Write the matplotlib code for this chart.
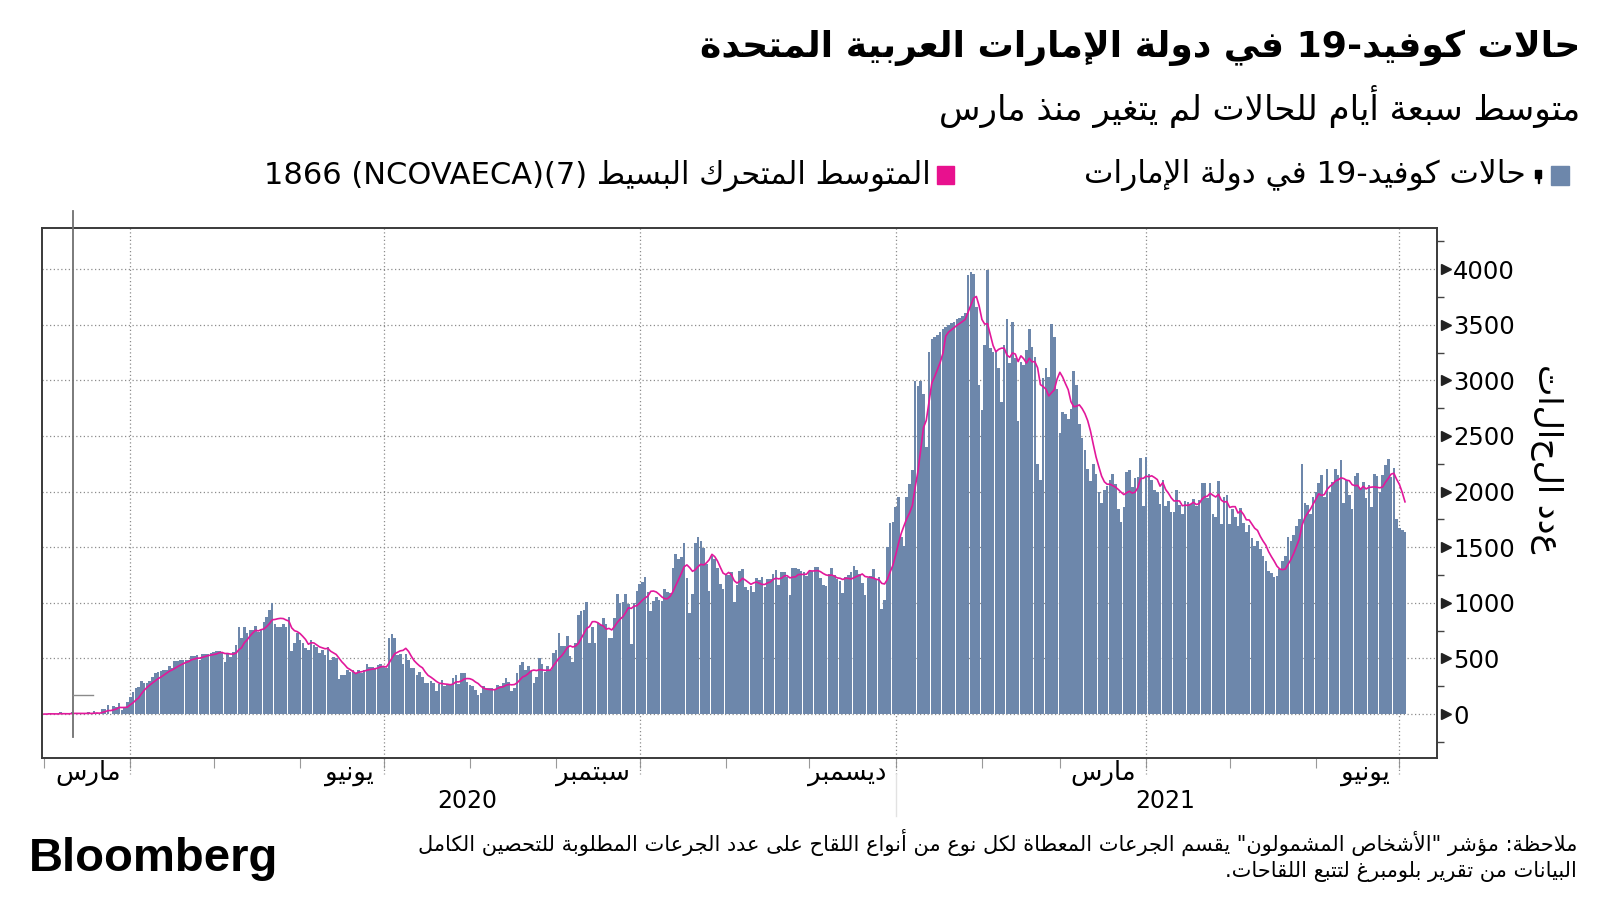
import re
import pandas as pd
import matplotlib
matplotlib.use("Agg")
import matplotlib.pyplot as plt
import matplotlib.dates as mdates
from matplotlib.patches import Rectangle
from matplotlib.ticker import MultipleLocator
from matplotlib.transforms import blended_transform_factory

# daily new cases, UAE (1 Mar 2020 .. 3 Jul 2021)
cases_2020_03 = [0, 0, 6, 0, 2, 0, 16, 0, 0, 0, 15, 11, 0, 13, 0, 0, 15, 0, 27, 13, 0, 45, 50, 85, 0, 72, 63, 102, 41, 53, 105]
cases_2020_04 = [150, 195, 234, 241, 294, 277, 283, 300, 331, 370, 376, 387, 398, 398, 432, 412, 477, 479, 484, 484,
                 483, 490, 518, 525, 532, 490, 536, 538, 542, 552]
cases_2020_05 = [561, 564, 569, 552, 470, 545, 515, 560, 620, 785, 680, 785, 725, 755, 755, 791, 740, 760, 830, 875,
                 940, 995, 814, 785, 785, 814, 785, 874, 569, 635, 725]
cases_2020_06 = [665, 635, 590, 575, 665, 620, 600, 545, 575, 530, 600, 485, 515, 500, 311, 350, 350, 395, 380, 395,
                 371, 395, 371, 395, 449, 425, 419, 401, 437, 449]
cases_2020_07 = [419, 410, 680, 720, 680, 530, 539, 449, 539, 485, 410, 410, 350, 380, 335, 275, 275, 299, 281, 210,
                 270, 305, 251, 260, 270, 320, 350, 270, 365, 371, 290]
cases_2020_08 = [260, 251, 215, 170, 190, 251, 236, 236, 236, 215, 260, 255, 282, 327, 291, 210, 232, 368, 443, 467,
                 398, 428, 383, 282, 336, 500, 450, 377, 428, 400, 545]
cases_2020_09 = [575, 731, 611, 611, 701, 521, 470, 635, 890, 929, 935, 1010, 635, 779, 641, 821, 797, 860, 809, 686,
                 680, 860, 1079, 1002, 1008, 1079, 989, 629, 1002, 1109]
cases_2020_10 = [1166, 1190, 1229, 1100, 929, 1019, 1049, 1025, 1019, 1121, 1100, 1085, 1310, 1439, 1391, 1409, 1535,
                 1220, 911, 1079, 1535, 1589, 1559, 1490, 1349, 1109, 1421, 1391, 1310, 1169, 1121]
cases_2020_11 = [1253, 1250, 1280, 1010, 1163, 1287, 1302, 1139, 1115, 1151, 1100, 1220, 1205, 1229, 1139, 1211, 1211,
                 1259, 1295, 1163, 1277, 1277, 1229, 1070, 1310, 1310, 1302, 1290, 1280, 1241]
cases_2020_12 = [1290, 1290, 1320, 1320, 1220, 1163, 1151, 1259, 1317, 1250, 1211, 1196, 1085, 1229, 1250, 1277, 1332,
                 1295, 1259, 1175, 1070, 1220, 1242, 1303, 1212, 1230, 949, 1030, 1498, 1715, 1724]
cases_2021_01 = [1859, 1955, 1588, 1513, 1949, 2070, 2190, 2996, 2948, 2996, 2881, 2400, 3251, 3369, 3387, 3408, 3438,
                 3459, 3477, 3498, 3513, 3528, 3549, 3558, 3580, 3609, 3949, 3970, 3958, 3657, 2957]
cases_2021_02 = [2731, 3317, 3988, 3287, 3257, 3266, 3107, 2806, 3317, 3549, 3152, 3528, 3197, 2634, 3167, 3137, 3272,
                 3459, 3302, 3212, 2244, 2106, 3017, 3107, 3032, 3507, 3393, 2926]
cases_2021_03 = [2527, 2716, 2695, 2650, 2746, 3086, 2957, 2610, 2485, 2376, 2205, 2094, 2250, 2160, 1994, 1895, 2016,
                 2054, 2100, 2154, 2070, 1844, 1724, 1865, 2175, 2190, 2040, 2124, 2130, 2304, 1874]
cases_2021_04 = [2310, 2154, 2100, 2016, 2000, 1889, 2100, 1874, 1919, 1814, 1814, 2010, 1880, 1799, 1913, 1904, 1890,
                 1930, 1874, 1925, 2076, 2076, 1940, 2076, 1799, 1769, 2094, 1709, 1955, 1973]
cases_2021_05 = [1709, 1844, 1769, 1694, 1850, 1720, 1640, 1700, 1580, 1510, 1560, 1480, 1420, 1380, 1290, 1270, 1229,
                 1240, 1300, 1380, 1420, 1590, 1560, 1610, 1690, 1750, 2250, 1900, 1880, 1800, 1950]
cases_2021_06 = [2000, 2080, 2150, 1950, 2200, 2000, 2090, 2200, 2150, 2280, 1900, 2100, 1966, 1842, 2136, 2167, 2028,
                 2090, 1941, 2059, 1858, 2158, 2136, 1997, 2152, 2238, 2291, 2127, 2214, 1755]
cases_2021_07 = [1672, 1656, 1641]

cases = (cases_2020_03 + cases_2020_04 + cases_2020_05 + cases_2020_06 + cases_2020_07 + cases_2020_08
         + cases_2020_09 + cases_2020_10 + cases_2020_11 + cases_2020_12 + cases_2021_01 + cases_2021_02
         + cases_2021_03 + cases_2021_04 + cases_2021_05 + cases_2021_06 + cases_2021_07)
dates = pd.date_range("2020-03-01", periods=len(cases), freq="D")
ma7 = pd.Series(cases, index=dates).rolling(7, min_periods=1).mean()

quarter_ticks = pd.to_datetime(["2020-04-01", "2020-07-01", "2020-10-01", "2021-01-01", "2021-04-01", "2021-07-01"])
month_labels = ["مارس", "يونيو", "سبتمبر", "ديسمبر", "مارس", "يونيو"]
year_labels = ["2020", "2021"]
year_pos = pd.to_datetime(["2020-07-31", "2021-04-08"])
y_ticks = list(range(0, 4001, 500))

title = "حالات كوفيد-19 في دولة الإمارات العربية المتحدة"
subtitle = "متوسط سبعة أيام للحالات لم يتغير منذ مارس"
legend_cases = "حالات كوفيد-19 في دولة الإمارات"
legend_ma = "المتوسط المتحرك البسيط (7)(NCOVAECA) 1866"
y_title = "عدد الحالات"
note_1 = 'ملاحظة: مؤشر "الأشخاص المشمولون" يقسم الجرعات المعطاة لكل نوع من أنواع اللقاح على عدد الجرعات المطلوبة للتحصين الكامل'
note_2 = "البيانات من تقرير بلومبرغ لتتبع اللقاحات."

BAR = "#6d87ab"
PINK = "#e2189b"
GRID = "#8c8c8c"

# --- minimal arabic shaping + right-to-left ordering (no reshaper lib here) ---
AR_FORMS = {
    'ء': (0xFE80, 'U'), 'آ': (0xFE81, 'R'), 'أ': (0xFE83, 'R'), 'ؤ': (0xFE85, 'R'), 'إ': (0xFE87, 'R'),
    'ئ': (0xFE89, 'D'), 'ا': (0xFE8D, 'R'), 'ب': (0xFE8F, 'D'), 'ة': (0xFE93, 'R'), 'ت': (0xFE95, 'D'),
    'ث': (0xFE99, 'D'), 'ج': (0xFE9D, 'D'), 'ح': (0xFEA1, 'D'), 'خ': (0xFEA5, 'D'), 'د': (0xFEA9, 'R'),
    'ذ': (0xFEAB, 'R'), 'ر': (0xFEAD, 'R'), 'ز': (0xFEAF, 'R'), 'س': (0xFEB1, 'D'), 'ش': (0xFEB5, 'D'),
    'ص': (0xFEB9, 'D'), 'ض': (0xFEBD, 'D'), 'ط': (0xFEC1, 'D'), 'ظ': (0xFEC5, 'D'), 'ع': (0xFEC9, 'D'),
    'غ': (0xFECD, 'D'), 'ف': (0xFED1, 'D'), 'ق': (0xFED5, 'D'), 'ك': (0xFED9, 'D'), 'ل': (0xFEDD, 'D'),
    'م': (0xFEE1, 'D'), 'ن': (0xFEE5, 'D'), 'ه': (0xFEE9, 'D'), 'و': (0xFEED, 'R'), 'ى': (0xFEEF, 'R'),
    'ي': (0xFEF1, 'D'),
}
LAM_ALEF = {'آ': 0xFEF5, 'أ': 0xFEF7, 'إ': 0xFEF9, 'ا': 0xFEFB}
MIRROR = {'(': ')', ')': '('}


def shape(text):
    out = []
    i = 0
    while i < len(text):
        c = text[i]
        if c not in AR_FORMS:
            out.append(c)
            i += 1
            continue
        prev = text[i - 1] if i > 0 else ''
        prev_join = prev in AR_FORMS and AR_FORMS[prev][1] == 'D'
        nxt = text[i + 1] if i + 1 < len(text) else ''
        if c == 'ل' and nxt in LAM_ALEF:
            out.append(chr(LAM_ALEF[nxt] + (1 if prev_join else 0)))
            i += 2
            continue
        base, kind = AR_FORMS[c]
        next_join = kind == 'D' and nxt in AR_FORMS and AR_FORMS[nxt][1] != 'U'
        if kind == 'U':
            code = base
        elif kind == 'R':
            code = base + (1 if prev_join else 0)
        elif prev_join and next_join:
            code = base + 3
        elif prev_join:
            code = base + 1
        elif next_join:
            code = base + 2
        else:
            code = base
        out.append(chr(code))
        i += 1
    return ''.join(out)


def ar(text):
    tokens = re.findall(r'[A-Za-z0-9]+|.', shape(text))
    return ''.join(MIRROR.get(t, t) for t in reversed(tokens))


def fx(px):
    return px / 1600


def fy(px):
    return 1 - px / 900


plt.rcParams['font.family'] = ['DejaVu Sans']
fig = plt.figure(figsize=(16, 9), dpi=100)
ax = fig.add_axes([fx(42), fy(758), fx(1437) - fx(42), fy(228) - fy(758)])

ax.bar(dates, cases, width=0.93, color=BAR, linewidth=0, antialiased=False, zorder=2)
ax.plot(dates, ma7.values, color=PINK, lw=1.2, zorder=3)

ax.set_xlim(pd.Timestamp("2020-02-29 07:00"), pd.Timestamp("2021-07-14 12:00"))
ax.set_ylim(-395, 4370)

# y axis on the right
ax.yaxis.tick_right()
ax.set_yticks(y_ticks)
ax.yaxis.set_minor_locator(MultipleLocator(250))
ax.tick_params(axis='y', which='major', length=0, pad=11.5, labelsize=17.5)
ax.tick_params(axis='y', which='minor', length=5, width=1, color='#444')
ax.grid(axis='y', which='major', ls=(0, (1, 2)), color=GRID, lw=0.9, zorder=1)
tr_y = blended_transform_factory(ax.transAxes, ax.transData)
ax.plot([1.0062] * len(y_ticks), y_ticks, ls='none', marker='>', ms=7, color='#222',
        transform=tr_y, clip_on=False)

# x axis: monthly ticks, quarter gridlines
ax.xaxis.set_major_locator(mdates.MonthLocator(bymonth=[1, 4, 7, 10]))
ax.xaxis.set_minor_locator(mdates.MonthLocator())
ax.tick_params(axis='x', which='both', length=7, width=0.8, color='#999', labelbottom=False)
ax.grid(axis='x', which='major', ls=(0, (1, 2)), color=GRID, lw=0.9, zorder=1)

tr_x = blended_transform_factory(ax.transData, ax.transAxes)
for q in quarter_ticks:
    ax.plot([q, q], [0, -0.03], ls=(0, (1, 2)), color=GRID, lw=0.9, transform=tr_x, clip_on=False)
ax.plot([quarter_ticks[3]] * 2, [-0.03, -0.11], color='#e2e2e2', lw=1, transform=tr_x, clip_on=False)

for sp in ax.spines.values():
    sp.set_color('#3a3a3a')
    sp.set_linewidth(1.4)

# odd marker line near the start of the series
mark = pd.Timestamp("2020-03-11 12:00")
ax.plot([mark, mark], [1.032, 0.04], color='#707070', lw=1.3, transform=tr_x, clip_on=False, zorder=4)
ax.plot([mark, pd.Timestamp("2020-03-18 16:00")], [170, 170], color='#8a8a8a', lw=1, zorder=4)

tr_lab = blended_transform_factory(ax.transData, fig.transFigure)
for q, lab in zip(quarter_ticks, month_labels):
    ax.text(q - pd.Timedelta(days=3.5), fy(773), ar(lab), transform=tr_lab, ha='right', va='center', fontsize=18.5)
for p, lab in zip(year_pos, year_labels):
    ax.text(p, fy(801), lab, transform=tr_lab, ha='center', va='center', fontsize=17)

fig.text(fx(1546), fy(459), y_title[::-1], rotation=-90, ha='center', va='center', fontsize=24)

# titles
fig.text(fx(1580), fy(48), ar(title), ha='right', va='center', fontsize=26, fontweight='bold')
fig.text(fx(1580), fy(106), ar(subtitle), ha='right', va='center', fontsize=24.5)

# legend
fig.add_artist(Rectangle((fx(1551), fy(185)), fx(18), 19 / 900, transform=fig.transFigure, color=BAR))
fig.add_artist(Rectangle((fx(1535), fy(178)), fx(6), 8 / 900, transform=fig.transFigure, color='black'))
fig.add_artist(Rectangle((fx(1537.5), fy(183)), fx(1), 5 / 900, transform=fig.transFigure, color='black'))
fig.text(fx(1526), fy(175), ar(legend_cases), ha='right', va='center', fontsize=22.5)
fig.add_artist(Rectangle((fx(937), fy(184)), fx(17), 18 / 900, transform=fig.transFigure, color='#e8118e'))
fig.text(fx(931), fy(175), ar(legend_ma), ha='right', va='center', fontsize=22)

# footer
fig.text(fx(29), fy(859), "Bloomberg", family='Liberation Sans', fontweight='bold', fontsize=34,
         ha='left', va='center')
fig.text(fx(1577), fy(842), ar(note_1), ha='right', va='center', fontsize=15)
fig.text(fx(1577), fy(872), ar(note_2), ha='right', va='center', fontsize=15)

fig.savefig("out.png", dpi=100)
